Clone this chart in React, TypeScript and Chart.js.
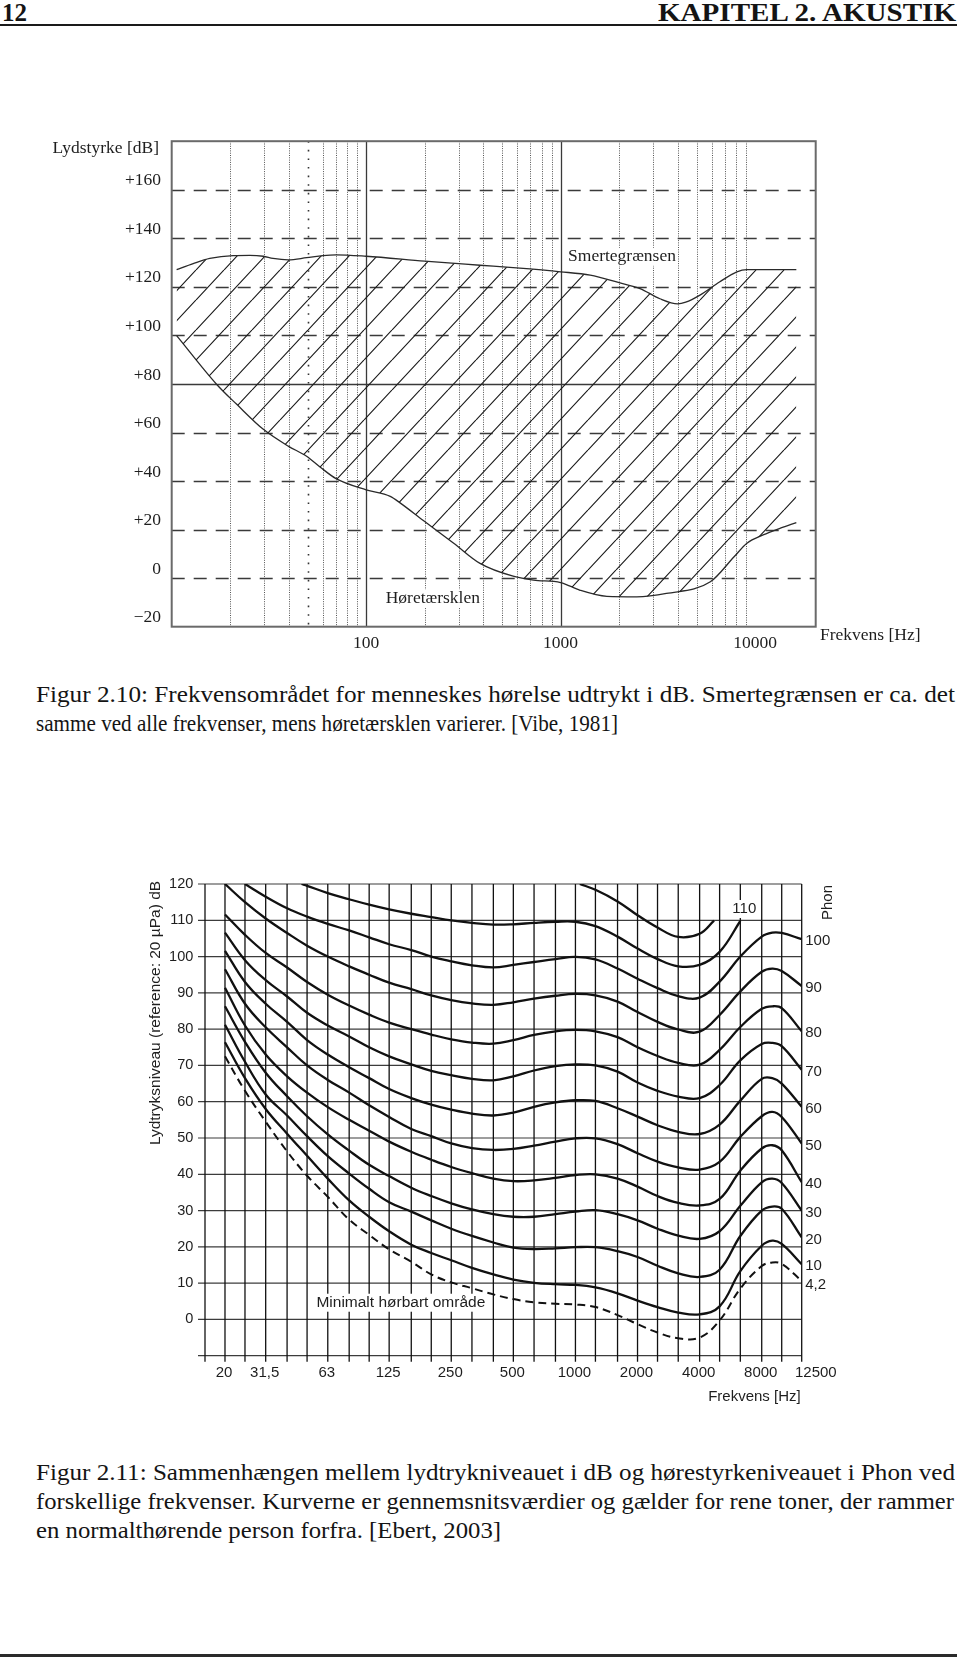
import React, { useEffect, useLayoutEffect, useRef } from 'react';
import { Chart, registerables } from 'chart.js';

Chart.register(...registerables);

// ---------------- Figur 2.10 : data ----------------
const painFreqHz = [10.6, 12.9, 15.7, 20.7, 25.2, 29.6, 33.2, 39.7, 49.4, 60, 70, 100, 200, 385, 593, 1000, 1420, 2000, 2560, 3240, 4000, 4400, 5180, 6560, 8060, 9080, 16300];
const painLevelDb = [127.1, 129.6, 131.7, 132.9, 133, 132.6, 131.7, 131.1, 132, 132.9, 133.2, 132.6, 130.6, 128.9, 127.8, 126.2, 124.8, 121.7, 119.3, 115.1, 113, 113.7, 116.5, 122, 126.2, 127.1, 127.1];
const hearingFreqHz = [10.6, 17, 21.6, 29.6, 39.7, 49.4, 57.9, 70, 100, 133, 150, 200, 282, 385, 570, 725, 1000, 1260, 1730, 2460, 3500, 5890, 7800, 9080, 11000, 13500, 16300];
const hearingLevelDb = [99.9, 79.9, 71.6, 61.3, 54.4, 50.2, 45.8, 41, 36.4, 33.7, 30.9, 23.3, 14.4, 6.1, 0.8, -0.8, -1.8, -5, -7.5, -7.7, -6.3, -1.5, 8.8, 14.4, 17.8, 20.6, 22.9];
const fig1YTickValues = [-20, 0, 20, 40, 60, 80, 100, 120, 140, 160];
const fig1XTickValues = [100, 1000, 10000];
const fig1DashedLevels = [0, 20, 40, 60, 100, 120, 140, 160];
const fig1SolidLevels = [80];
const fig1SolidFreqs = [100, 1000];
const fig1DottedFreqs = [20, 30, 40, 60, 70, 80, 90, 200, 300, 400, 500, 600, 700, 800, 900, 2000, 3000, 4000, 5000, 6000, 7000, 8000, 9000];
const fig1SparseFreqs = [50];

// ---------------- Figur 2.11 : data ----------------
const bandFreqHz = [16, 20, 25, 31.5, 40, 50, 63, 80, 100, 125, 160, 200, 250, 315, 400, 500, 630, 800, 1000, 1250, 1600, 2000, 2500, 3150, 4000, 5000, 6300, 8000, 10000, 12500];
const bandLabelFreqHz = [20, 31.5, 63, 125, 250, 500, 1000, 2000, 4000, 8000, 12500];
const bandLabelText = ['20', '31,5', '63', '125', '250', '500', '1000', '2000', '4000', '8000', '12500'];
const fig2YTickValues = [0, 10, 20, 30, 40, 50, 60, 70, 80, 90, 100, 110, 120];
const fig2GridLevels = [-10, 0, 10, 20, 30, 40, 50, 60, 70, 80, 90, 100, 110, 120];

const contourFreqHz = [20, 25, 31.5, 40, 50, 63, 80, 100, 125, 160, 200, 250, 315, 400, 500, 630, 800, 1000, 1250, 1600, 2000, 2500, 3150, 4000, 5000, 6300, 8000, 9000, 10000, 12500];
const phon4 = [72.5, 63, 54.5, 46.3, 39.6, 33.8, 27.5, 23.3, 19.3, 15.9, 12.4, 10.2, 8.6, 6.9, 5.6, 4.7, 4.3, 4.1, 3.4, 1.2, -1.3, -3.6, -5.2, -5, -0.3, 8.5, 14.7, 15.7, 15.3, 10.6];
const phon10 = [76.4, 66.5, 58, 51.2, 45.1, 38.8, 32.8, 28.3, 24.3, 20.6, 18.3, 16.3, 14.2, 12.4, 11, 10.1, 9.7, 9.5, 8.8, 7.2, 5.2, 3.4, 1.9, 1.4, 3.6, 13.3, 20.3, 21.7, 20.8, 15.2];
const phon20 = [81.2, 71, 62, 56.2, 50.5, 45, 40.2, 36, 32.3, 29.7, 27.3, 25, 23, 21.2, 19.8, 19.4, 19.6, 19.9, 19.9, 18.8, 17.2, 14.8, 12.7, 11.7, 13.7, 23, 30, 31.1, 30.5, 22.6];
const phon30 = [86.3, 76.5, 68, 61.5, 56, 51, 46.5, 42.6, 39.5, 36.3, 34, 32, 30.3, 29, 28.3, 28.3, 29, 29.7, 30.1, 29, 27.3, 25, 23.1, 22.2, 24.3, 31.3, 37.8, 38.8, 37.6, 30];
const phon40 = [91.4, 81, 73, 67, 62.5, 58.5, 55, 52, 49, 46.2, 44, 42, 40.3, 38.8, 38.1, 38.3, 39, 39.8, 40, 38.8, 36.6, 34, 32.1, 31.4, 33.2, 41, 47.1, 48, 46.6, 37.8];
const phon50 = [96.5, 87, 80.5, 75, 70, 66, 62.5, 59, 55.8, 52.5, 50.5, 48.5, 47.2, 46.7, 47, 47.9, 49, 49.9, 49.9, 48.3, 45.8, 43.5, 41.9, 41.3, 43.4, 50.3, 56, 57.2, 55.8, 48.5];
const phon60 = [101.6, 93, 87, 82, 77, 73, 69.5, 66.5, 63.5, 61, 59.2, 57.8, 56.7, 56.2, 57, 58.6, 59.8, 60.4, 60.2, 58.2, 55.9, 53.5, 51.7, 51.1, 53.7, 60.3, 66.3, 66.5, 65, 58.6];
const phon70 = [106.6, 99, 93.5, 89, 84.5, 81, 78, 75, 72.5, 70.3, 68.5, 67.3, 66.3, 65.9, 67, 68.6, 69.8, 70.3, 70, 68.3, 65.3, 63, 61.4, 61, 64.6, 71.4, 75.9, 76.2, 75.3, 68.8];
const phon80 = [111.6, 106, 101, 97, 93, 89.5, 86.5, 84, 81.8, 80, 78.5, 77.2, 76.3, 76, 77, 78.4, 79.4, 79.8, 79.4, 77.8, 75, 72.6, 70.7, 70.2, 74.3, 80.6, 85.6, 86.3, 85.8, 79.4];
const phon90 = [120, 115, 110.5, 106.5, 103, 100, 97.3, 95, 92.8, 91, 89.3, 88, 87.1, 86.7, 87.4, 88.4, 89.2, 89.7, 89.3, 87.6, 84.7, 82, 79.9, 79.3, 83.9, 90.4, 95.8, 96.7, 96, 91.9];
const phon100FreqHz = contourFreqHz.slice(1);
const phon100 = [120, 116.5, 113.3, 111, 109, 107.2, 105.3, 103.4, 101.8, 100, 98.7, 97.6, 97, 97.7, 98.5, 99.3, 99.9, 99.2, 96.7, 93.9, 91.3, 89.1, 88.7, 93.1, 100, 105.5, 106.6, 106.5, 104.8];
const phon110FreqHz = [47, ...contourFreqHz.slice(4, 26)];
const phon110 = [120, 119.5, 117.5, 115.8, 114.3, 113, 111.8, 110.9, 110, 109.3, 108.8, 108.9, 109.3, 109.6, 109.6, 108.4, 105.5, 102.2, 99.3, 97.3, 97.7, 101.3, 109.8];
const phon120FreqHz = [1050, 1250, 1600, 2000, 2500, 3150, 4000, 4700];
const phon120 = [120, 118.4, 115.2, 111.4, 108, 105.4, 106.3, 109.9];

const contourSeries = [
  { label: '4,2', freq: contourFreqHz, db: phon4, dashed: true },
  { label: '10', freq: contourFreqHz, db: phon10 },
  { label: '20', freq: contourFreqHz, db: phon20 },
  { label: '30', freq: contourFreqHz, db: phon30 },
  { label: '40', freq: contourFreqHz, db: phon40 },
  { label: '50', freq: contourFreqHz, db: phon50 },
  { label: '60', freq: contourFreqHz, db: phon60 },
  { label: '70', freq: contourFreqHz, db: phon70 },
  { label: '80', freq: contourFreqHz, db: phon80 },
  { label: '90', freq: contourFreqHz, db: phon90 },
  { label: '100', freq: phon100FreqHz, db: phon100 },
  { label: '110', freq: phon110FreqHz, db: phon110 },
  { label: '', freq: phon120FreqHz, db: phon120 },
];

const SERIF = '"Liberation Serif", "Times New Roman", serif';
const SANS = '"Liberation Sans", Arial, sans-serif';

function toPoints(freq: number[], db: number[]) {
  return freq.map((f, i) => ({ x: f, y: db[i] }));
}

function textWithBox(ctx: CanvasRenderingContext2D, text: string, x: number, y: number, align: CanvasTextAlign) {
  const w = ctx.measureText(text).width;
  const left = align === 'left' ? x : align === 'right' ? x - w : x - w / 2;
  ctx.fillStyle = '#fff';
  ctx.fillRect(left - 2, y - 9, w + 4, 18);
  ctx.fillStyle = '#1e1e1e';
  ctx.textAlign = align;
  ctx.fillText(text, x, y);
}

// ---------------- Figur 2.10 ----------------
const fig1Decor = {
  id: 'fig1Decor',
  beforeDatasetsDraw(chart: any) {
    const { ctx, chartArea: a, scales } = chart;
    const x = scales.x;
    const y = scales.y;
    const vline = (f: number) => {
      const p = Math.round(x.getPixelForValue(f)) + 0.5;
      ctx.beginPath(); ctx.moveTo(p, a.top); ctx.lineTo(p, a.bottom); ctx.stroke();
    };
    const hline = (v: number) => {
      const p = Math.round(y.getPixelForValue(v)) + 0.5;
      ctx.beginPath(); ctx.moveTo(a.left, p); ctx.lineTo(a.right, p); ctx.stroke();
    };
    ctx.save();
    ctx.strokeStyle = '#555'; ctx.lineWidth = 1; ctx.setLineDash([1, 1.3]);
    fig1DottedFreqs.forEach(vline);
    ctx.strokeStyle = '#333'; ctx.lineWidth = 1.6; ctx.setLineDash([1.6, 7]);
    fig1SparseFreqs.forEach(vline);
    ctx.setLineDash([]); ctx.strokeStyle = '#3a3a3a'; ctx.lineWidth = 1.3;
    fig1SolidFreqs.forEach(vline);
    fig1SolidLevels.forEach(hline);
    ctx.setLineDash([13, 9]);
    fig1DashedLevels.forEach(hline);
    ctx.restore();
  },
  afterDraw(chart: any) {
    const { ctx, chartArea: a, scales } = chart;
    const x = scales.x;
    const y = scales.y;
    ctx.save();
    ctx.strokeStyle = '#6a6a6a'; ctx.lineWidth = 2;
    ctx.strokeRect(a.left, a.top, a.right - a.left, a.bottom - a.top);
    ctx.font = `17.5px ${SERIF}`;
    ctx.textBaseline = 'middle';
    ctx.fillStyle = '#1e1e1e';
    ctx.textAlign = 'right';
    ctx.fillText('Lydstyrke [dB]', a.left - 12.7, a.top + 7.3);
    ctx.textAlign = 'left';
    ctx.fillText('Frekvens [Hz]', a.right + 4.3, a.bottom + 8.3);
    textWithBox(ctx, 'Smertegrænsen', x.getPixelForValue(1092), y.getPixelForValue(132.4), 'left');
    textWithBox(ctx, 'Høretærsklen', x.getPixelForValue(126), y.getPixelForValue(-8.4), 'left');
    ctx.restore();
  },
};

function buildFig1(canvas: HTMLCanvasElement) {
  const HATCH_W = 28;
  const HATCH_H = 30;
  const tile = document.createElement('canvas');
  tile.width = HATCH_W; tile.height = HATCH_H;
  const t = tile.getContext('2d')!;
  t.strokeStyle = '#1a1a1a'; t.lineWidth = 1.15;
  t.beginPath();
  for (const dx of [-HATCH_W, 0, HATCH_W]) { t.moveTo(dx, HATCH_H); t.lineTo(dx + HATCH_W, 0); }
  t.stroke();
  const pattern = canvas.getContext('2d')!.createPattern(tile, 'repeat');

  return new Chart(canvas, {
    type: 'line',
    data: {
      datasets: [
        {
          data: toPoints(painFreqHz, painLevelDb),
          borderColor: '#2a2a2a', borderWidth: 1.3, pointRadius: 0,
          cubicInterpolationMode: 'monotone', fill: '+1', backgroundColor: pattern as any,
        },
        {
          data: toPoints(hearingFreqHz, hearingLevelDb),
          borderColor: '#2a2a2a', borderWidth: 1.3, pointRadius: 0,
          cubicInterpolationMode: 'monotone', fill: false,
        },
      ],
    },
    options: {
      responsive: false, animation: false, devicePixelRatio: 1,
      layout: { padding: { top: 20.7, right: 144.3, left: 0, bottom: 0 } },
      plugins: { legend: { display: false }, tooltip: { enabled: false } },
      scales: {
        x: {
          type: 'logarithmic', min: 10, max: 20500,
          grid: { display: false, drawTicks: false }, border: { display: false },
          afterBuildTicks: (s: any) => { s.ticks = fig1XTickValues.map((v) => ({ value: v })); },
          afterFit: (s: any) => { s.height = 33.3; },
          ticks: {
            autoSkip: false, maxRotation: 0, padding: 6, color: '#1e1e1e',
            font: { family: SERIF, size: 17.5 },
            callback: (v: any) => String(v),
          },
        },
        y: {
          type: 'linear', min: -20, max: 180,
          grid: { display: false, drawTicks: false }, border: { display: false },
          afterBuildTicks: (s: any) => { s.ticks = fig1YTickValues.map((v) => ({ value: v })); },
          afterFit: (s: any) => { s.width = 171.7; },
          ticks: {
            padding: 10.7, labelOffset: -9, color: '#1e1e1e',
            font: { family: SERIF, size: 17.5 },
            callback: (v: any) => (v > 0 ? '+' + v : v < 0 ? '\u2212' + -v : '0'),
          },
        },
      },
    } as any,
    plugins: [fig1Decor],
  });
}

// ---------------- Figur 2.11 ----------------
const fig2Decor = {
  id: 'fig2Decor',
  beforeDatasetsDraw(chart: any) {
    const { ctx, chartArea: a, scales } = chart;
    const x = scales.x;
    const y = scales.y;
    ctx.save();
    ctx.strokeStyle = '#3c3c3c'; ctx.lineWidth = 1.2;
    for (const v of fig2GridLevels) {
      const p = y.getPixelForValue(v);
      ctx.beginPath(); ctx.moveTo(a.left - 7, p); ctx.lineTo(a.right, p); ctx.stroke();
    }
    ctx.strokeStyle = '#111'; ctx.lineWidth = 1.3;
    for (const f of bandFreqHz) {
      const p = x.getPixelForValue(f);
      ctx.beginPath(); ctx.moveTo(p, a.top); ctx.lineTo(p, a.bottom + 6); ctx.stroke();
    }
    ctx.restore();
  },
  afterDatasetsDraw(chart: any) {
    const { ctx, chartArea: a, scales } = chart;
    const x = scales.x;
    const y = scales.y;
    ctx.save();
    ctx.fillStyle = '#1e1e1e';
    ctx.textBaseline = 'middle';
    ctx.font = `15px ${SANS}`;
    bandLabelFreqHz.forEach((f, i) => {
      const px = x.getPixelForValue(f);
      const isLast = i === bandLabelFreqHz.length - 1;
      ctx.textAlign = isLast ? 'left' : 'center';
      ctx.fillStyle = '#1e1e1e';
      ctx.fillText(bandLabelText[i], isLast ? px - 6.7 : px - 1, a.bottom + 17.6);
    });
    contourSeries.forEach((s, i) => {
      if (!s.label) return;
      const meta = chart.getDatasetMeta(i);
      const last = meta.data[meta.data.length - 1];
      if (s.label === '110') {
        textWithBox(ctx, s.label, last.x + 4, last.y - 12, 'center');
      } else {
        ctx.textAlign = 'left';
        ctx.fillStyle = '#1e1e1e';
        ctx.fillText(s.label, a.right + 3.5, last.y + (s.dashed ? 4 : 2));
      }
    });
    ctx.save();
    ctx.translate(a.right + 26.6, a.top + 18.5);
    ctx.rotate(-Math.PI / 2);
    ctx.textAlign = 'center';
    ctx.fillStyle = '#1e1e1e';
    ctx.fillText('Phon', 0, 0);
    ctx.restore();
    ctx.save();
    ctx.font = `15.5px ${SANS}`;
    ctx.translate(a.left - 49, a.top + 129);
    ctx.rotate(-Math.PI / 2);
    ctx.textAlign = 'center';
    ctx.fillStyle = '#1e1e1e';
    ctx.fillText('Lydtryksniveau (reference: 20 \u00b5Pa) dB', 0, 0);
    ctx.restore();
    ctx.font = `15.5px ${SANS}`;
    textWithBox(ctx, 'Minimalt hørbart område', x.getPixelForValue(55.5), y.getPixelForValue(4.6), 'left');
    ctx.font = `15px ${SANS}`;
    ctx.textAlign = 'right';
    ctx.fillStyle = '#1e1e1e';
    ctx.fillText('Frekvens [Hz]', a.right - 1, a.bottom + 41);
    ctx.restore();
  },
};

function buildFig2(canvas: HTMLCanvasElement) {
  return new Chart(canvas, {
    type: 'line',
    data: {
      datasets: contourSeries.map((s) => ({
        data: toPoints(s.freq, s.db),
        borderColor: '#111', borderWidth: s.dashed ? 2 : 2.3, pointRadius: 0,
        borderDash: s.dashed ? [8, 5] : [],
        tension: 0.4, fill: false,
      })),
    },
    options: {
      responsive: false, animation: false, devicePixelRatio: 1,
      layout: { padding: { top: 24, right: 158.3, left: 0, bottom: 0 } },
      plugins: { legend: { display: false }, tooltip: { enabled: false } },
      scales: {
        x: {
          type: 'logarithmic', min: 16, max: 12500,
          grid: { display: false, drawTicks: false }, border: { display: false },
          afterBuildTicks: (s: any) => { s.ticks = bandLabelFreqHz.map((v) => ({ value: v })); },
          afterFit: (s: any) => { s.height = 64.3; },
          ticks: { display: false },
        },
        y: {
          type: 'linear', min: -10, max: 120,
          grid: { display: false, drawTicks: false }, border: { display: false },
          afterBuildTicks: (s: any) => { s.ticks = fig2YTickValues.map((v) => ({ value: v })); },
          afterFit: (s: any) => { s.width = 205; },
          ticks: {
            padding: 11.7, color: '#1e1e1e',
            font: { family: SANS, size: 14.5 },
            callback: (v: any) => String(v),
          },
        },
      },
    } as any,
    plugins: [fig2Decor],
  });
}

function ChartCanvas({ build, left, top, width, height }: any) {
  const ref = useRef<HTMLCanvasElement>(null);
  useEffect(() => {
    const chart = build(ref.current!);
    return () => chart.destroy();
  }, [build]);
  return (
    <canvas
      ref={ref}
      width={width}
      height={height}
      style={{ position: 'absolute', left, top, width, height }}
    />
  );
}

function FitLine({ text, left, centerY, width, size, bold }: any) {
  const ref = useRef<HTMLSpanElement>(null);
  useLayoutEffect(() => {
    const el = ref.current;
    if (!el) return;
    el.style.transform = 'none';
    const w = el.getBoundingClientRect().width;
    if (w > 0) el.style.transform = `scaleX(${width / w})`;
  }, [text, width, size]);
  return (
    <div
      style={{
        position: 'absolute', left, top: centerY - size / 2, whiteSpace: 'nowrap',
        fontFamily: SERIF, fontSize: size, lineHeight: 1, fontWeight: bold ? 'bold' : 'normal', color: '#141414',
      }}
    >
      <span ref={ref} style={{ display: 'inline-block', transformOrigin: '0 0' }}>{text}</span>
    </div>
  );
}

export default function App() {
  return (
    <div style={{ position: 'absolute', left: 0, top: 0, width: 960, height: 1659, background: '#fff', overflow: 'hidden' }}>
      <FitLine text="12" left={2} centerY={12} width={25} size={25} bold />
      <FitLine text="KAPITEL 2. AKUSTIK" left={658} centerY={12} width={298} size={25} bold />
      <div style={{ position: 'absolute', left: 0, top: 24, width: 957, height: 2, background: '#1a1a1a' }} />

      <ChartCanvas build={buildFig1} left={0} top={120} width={960} height={540} />

      <FitLine text="Figur 2.10: Frekvensområdet for menneskes hørelse udtrykt i dB. Smertegrænsen er ca. det" left={36} centerY={695} width={919} size={22.5} />
      <FitLine text="samme ved alle frekvenser, mens høretærsklen varierer. [Vibe, 1981]" left={36} centerY={724} width={582} size={22.5} />

      <ChartCanvas build={buildFig2} left={0} top={860} width={960} height={560} />

      <FitLine text="Figur 2.11: Sammenhængen mellem lydtrykniveauet i dB og hørestyrkeniveauet i Phon ved" left={36} centerY={1473} width={919} size={22.5} />
      <FitLine text="forskellige frekvenser. Kurverne er gennemsnitsværdier og gælder for rene toner, der rammer" left={36} centerY={1502} width={918} size={22.5} />
      <FitLine text="en normalthørende person forfra. [Ebert, 2003]" left={36} centerY={1531} width={465} size={22.5} />

      <div style={{ position: 'absolute', left: 0, top: 1654, width: 957, height: 3, background: '#2a2a2a' }} />
    </div>
  );
}
